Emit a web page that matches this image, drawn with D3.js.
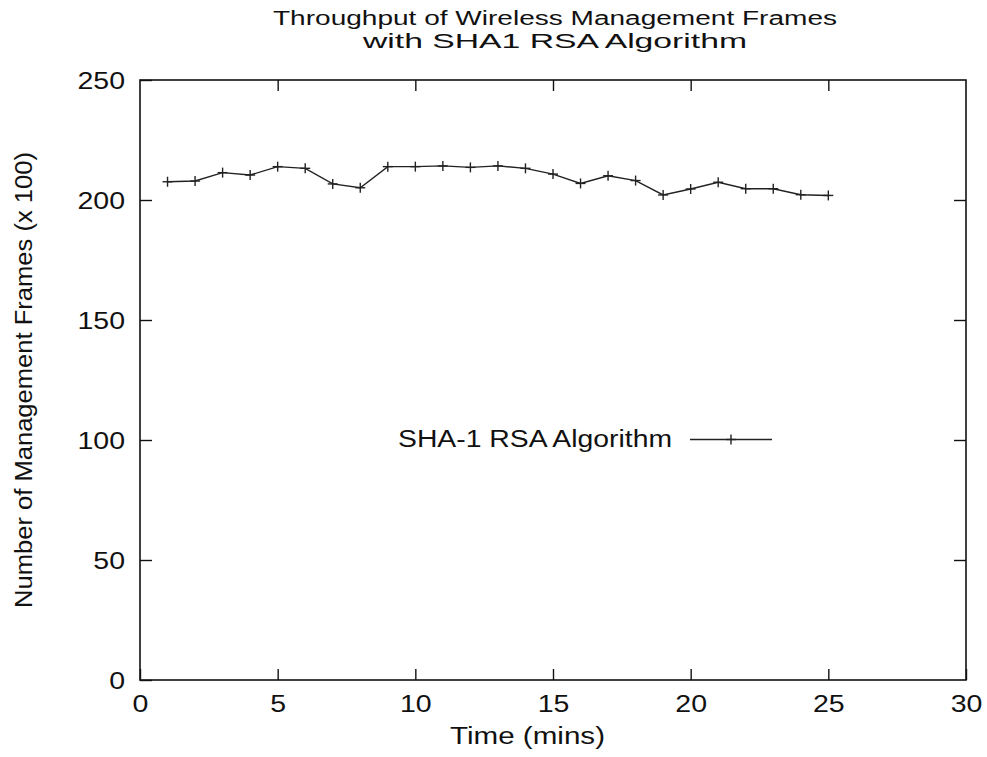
<!DOCTYPE html>
<html>
<head>
<meta charset="utf-8">
<script src="https://cdn.jsdelivr.net/npm/d3@7"></script>
<style>
  body { margin: 0; background: #fff; }
  text { font-family: "Liberation Sans", Arial, sans-serif; fill: #111; }
</style>
</head>
<body>
<div id="chart"></div>
<script>
// data
var minutes = [1, 2, 3, 4, 5, 6, 7, 8, 9, 10, 11, 12, 13, 14, 15, 16, 17, 18, 19, 20, 21, 22, 23, 24, 25];
var frames = [207.6, 207.9, 211.4, 210.4, 213.9, 213.2, 206.7, 205.1, 213.9, 213.9, 214.2, 213.6, 214.2, 213.2,
              210.8, 206.9, 210.1, 208.1, 202.1, 204.6, 207.4, 204.7, 204.7, 202.2, 201.9];
var xTicks = [0, 5, 10, 15, 20, 25, 30];
var yTicks = [0, 50, 100, 150, 200, 250];
var seriesName = "SHA-1 RSA Algorithm";
var titleLines = ["Throughput of Wireless Management Frames", "with SHA1 RSA Algorithm"];

var W = 987, H = 757;
var plotL = 140, plotR = 966, plotT = 80, plotB = 680;
var stretch = 1.24;   // the original picture is stretched sideways

var svg = d3.select("#chart").append("svg")
    .attr("width", W)
    .attr("height", H);

var x = d3.scaleLinear().domain([0, 30]).range([plotL, plotR]);
var y = d3.scaleLinear().domain([0, 250]).range([plotB, plotT]);

// title
svg.append("text").text(titleLines[0])
    .attr("x", 273).attr("y", 25)
    .attr("font-size", 20)
    .attr("textLength", 564).attr("lengthAdjust", "spacingAndGlyphs");
svg.append("text").text(titleLines[1])
    .attr("x", 363).attr("y", 48)
    .attr("font-size", 20)
    .attr("textLength", 384).attr("lengthAdjust", "spacingAndGlyphs");

// axes (ticks point inwards, mirrored on top and right)
function styleAxis(g){
    g.select(".domain").remove();
    g.selectAll("line").attr("stroke", "#111").attr("stroke-width", 1.4);
}

var xAxis = d3.axisBottom(x).tickValues(xTicks).tickSize(-11).tickPadding(14);
svg.append("g").attr("transform", "translate(0," + plotB + ")").call(xAxis)
    .call(styleAxis)
    .selectAll("text")
        .attr("font-size", 23)
        .attr("dy", "0.71em")
        .attr("y", 16)
        .attr("transform", "scale(" + stretch + ",1)")
        .attr("x", 0);

svg.append("g").attr("transform", "translate(0," + plotT + ")")
    .call(d3.axisTop(x).tickValues(xTicks.slice(1, -1)).tickSize(-11).tickFormat(""))
    .call(styleAxis);

var yAxis = d3.axisLeft(y).tickValues(yTicks).tickSize(-12).tickPadding(0);
svg.append("g").attr("transform", "translate(" + plotL + ",0)").call(yAxis)
    .call(styleAxis)
    .selectAll("text")
        .attr("font-size", 23)
        .attr("x", -15 / stretch)
        .attr("dy", "0.36em")
        .attr("transform", "scale(" + stretch + ",1)");

svg.append("g").attr("transform", "translate(" + plotR + ",0)")
    .call(d3.axisRight(y).tickValues(yTicks.slice(1, -1)).tickSize(-12).tickFormat(""))
    .call(styleAxis);

// frame
svg.append("rect")
    .attr("x", plotL).attr("y", plotT)
    .attr("width", plotR - plotL).attr("height", plotB - plotT)
    .attr("fill", "none").attr("stroke", "#111").attr("stroke-width", 1.6);

// axis labels
svg.append("text").text("Time (mins)")
    .attr("x", 450).attr("y", 744)
    .attr("font-size", 23)
    .attr("textLength", 155).attr("lengthAdjust", "spacingAndGlyphs");

svg.append("text").text("Number of Management Frames (x 100)")
    .attr("transform", "translate(32,608) rotate(-90)")
    .attr("font-size", 23)
    .attr("textLength", 456).attr("lengthAdjust", "spacingAndGlyphs");

// series
var pts = minutes.map(function(m, i){ return [m, frames[i]]; });
var line = d3.line().x(function(d){ return x(d[0]); }).y(function(d){ return y(d[1]); });

svg.append("path").datum(pts)
    .attr("d", line)
    .attr("fill", "none")
    .attr("stroke", "#222")
    .attr("stroke-width", 1.4);

function plus(sel, size){
    sel.append("line").attr("x1", -size).attr("x2", size).attr("y1", 0).attr("y2", 0);
    sel.append("line").attr("x1", 0).attr("x2", 0).attr("y1", -size).attr("y2", size);
    sel.selectAll("line").attr("stroke", "#222").attr("stroke-width", 1.4);
}

svg.selectAll("g.pt").data(pts).enter()
    .append("g").attr("class", "pt")
    .attr("transform", function(d){ return "translate(" + x(d[0]) + "," + y(d[1]) + ")"; })
    .each(function(){ plus(d3.select(this), 5); });

// legend
svg.append("text").text(seriesName)
    .attr("x", 398).attr("y", 447)
    .attr("font-size", 23)
    .attr("textLength", 274).attr("lengthAdjust", "spacingAndGlyphs");
svg.append("line")
    .attr("x1", 690).attr("x2", 772)
    .attr("y1", 439.5).attr("y2", 439.5)
    .attr("stroke", "#222").attr("stroke-width", 1.4);
svg.append("g").attr("transform", "translate(731,439.5)")
    .call(function(g){ plus(g, 5); });
</script>
</body>
</html>
